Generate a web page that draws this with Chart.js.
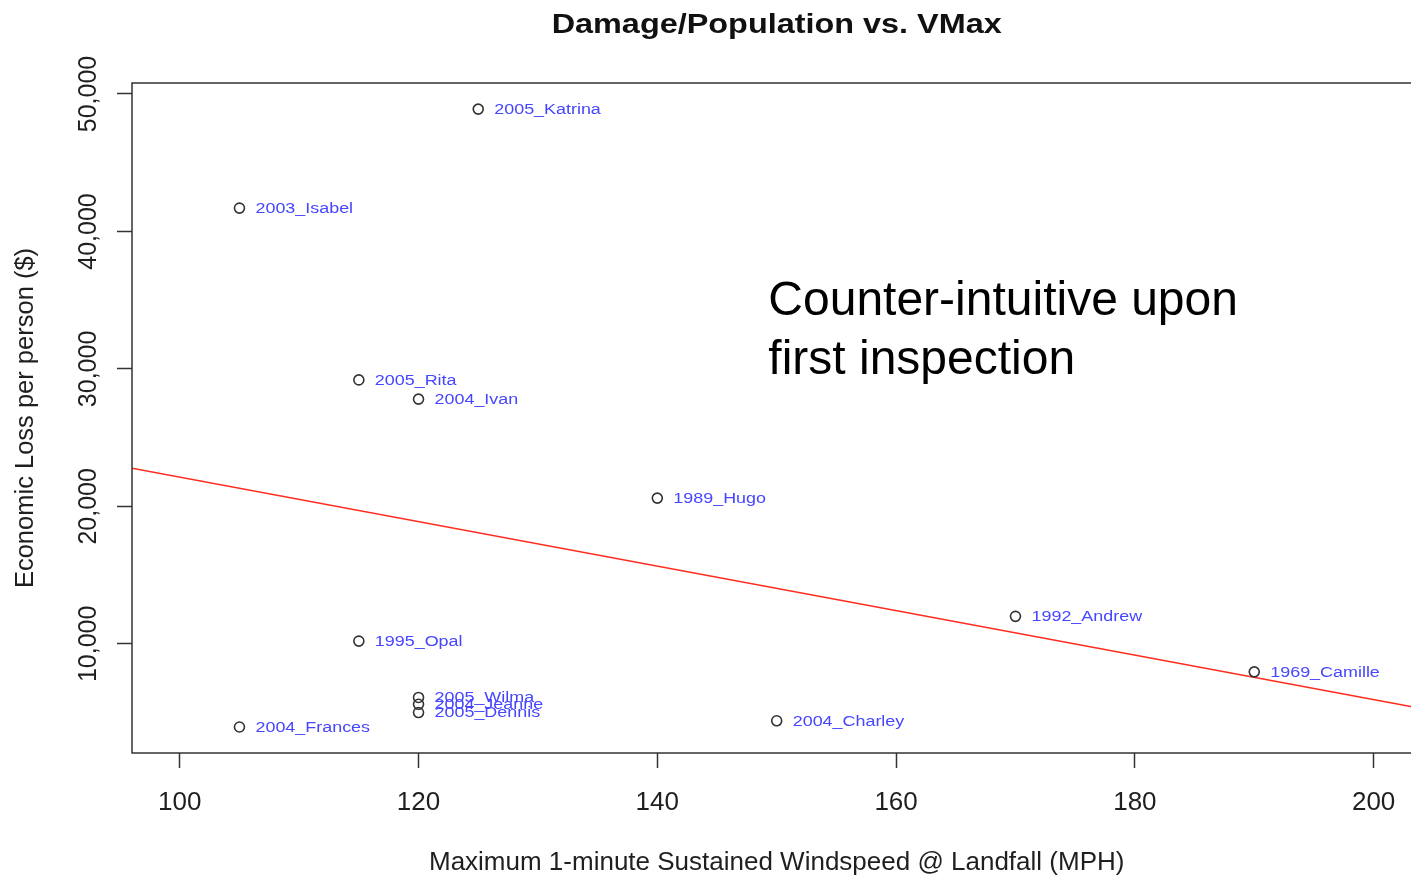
<!DOCTYPE html>
<html>
<head>
<meta charset="utf-8">
<script src="https://cdn.jsdelivr.net/npm/chart.js@4/dist/chart.umd.min.js"></script>
<style>
  html, body { margin: 0; padding: 0; background: #fff; }
  #wrap { width: 1411px; height: 878px; overflow: hidden; position: relative; }
</style>
</head>
<body>
<div id="wrap">
  <canvas id="vmaxChart" width="1428" height="878"></canvas>
</div>
<script>
// storms
const stormNames = ['2005_Katrina', '2003_Isabel', '2005_Rita', '2004_Ivan', '1989_Hugo', '1992_Andrew',
  '1969_Camille', '1995_Opal', '2005_Wilma', '2004_Jeanne', '2005_Dennis', '2004_Frances', '2004_Charley'];
const windspeed = [125, 105, 115, 120, 140, 170, 190, 115, 120, 120, 120, 105, 150];
const lossPerPerson = [48900, 41700, 29200, 27800, 20600, 12000, 7960, 10200, 6100, 5600, 5000, 3950, 4400];

// fitted line, ends at the plot edges
const fitX = [96, 204];
const fitY = [22770, 5290];

const xTicks = [100, 120, 140, 160, 180, 200];
const yTicks = [10000, 20000, 30000, 40000, 50000];

const chartTitle = 'Damage/Population vs. VMax';
const noteLines = ['Counter-intuitive upon', 'first inspection'];
const noteAt = { x: 149.3, y: 33900 };

const FONT = '"Liberation Sans", Arial, sans-serif';

const extras = {
  id: 'extras',
  afterDraw(chart) {
    const ctx = chart.ctx;
    const area = chart.chartArea;
    const xs = chart.scales.x;
    const ys = chart.scales.y;

    ctx.save();
    // box around the plot
    ctx.strokeStyle = '#333';
    ctx.lineWidth = 1.5;
    ctx.strokeRect(area.left, area.top, area.right - area.left, area.bottom - area.top);

    // y tick labels, turned like R draws them
    ctx.fillStyle = '#1f1f1f';
    ctx.font = '25px ' + FONT;
    ctx.textAlign = 'center';
    ctx.textBaseline = 'middle';
    yTicks.forEach(v => {
      ctx.save();
      ctx.translate(area.left - 43, ys.getPixelForValue(v));
      ctx.rotate(-Math.PI / 2);
      ctx.fillText(v.toLocaleString('en-US'), 0, 0);
      ctx.restore();
    });

    // point labels
    const meta = chart.getDatasetMeta(0);
    ctx.fillStyle = '#4646ff';
    ctx.font = '14px ' + FONT;
    ctx.textAlign = 'left';
    meta.data.forEach((pt, i) => {
      ctx.save();
      ctx.translate(pt.x + 16, pt.y + 1);
      ctx.scale(1.28, 1);
      ctx.fillText(stormNames[i], 0, 0);
      ctx.restore();
    });

    // title
    ctx.save();
    ctx.fillStyle = '#111';
    ctx.font = 'bold 27px ' + FONT;
    ctx.textAlign = 'center';
    ctx.textBaseline = 'alphabetic';
    ctx.translate((area.left + area.right) / 2, 33);
    ctx.scale(1.2, 1);
    ctx.fillText(chartTitle, 0, 0);
    ctx.restore();

    // note
    ctx.fillStyle = '#000';
    ctx.font = '48px ' + FONT;
    ctx.textAlign = 'left';
    ctx.textBaseline = 'alphabetic';
    const nx = xs.getPixelForValue(noteAt.x);
    const ny = ys.getPixelForValue(noteAt.y);
    noteLines.forEach((t, i) => ctx.fillText(t, nx, ny + i * 58.5));
    ctx.restore();
  }
};

const ctx = document.getElementById('vmaxChart').getContext('2d');
new Chart(ctx, {
  type: 'scatter',
  data: {
    datasets: [
      {
        label: 'storms',
        data: windspeed.map((x, i) => ({ x: x, y: lossPerPerson[i] })),
        pointStyle: 'circle',
        pointRadius: 5,
        pointHoverRadius: 5,
        pointBackgroundColor: 'rgba(0,0,0,0)',
        pointBorderColor: '#333',
        pointBorderWidth: 1.6
      },
      {
        type: 'line',
        label: 'fit',
        data: fitX.map((x, i) => ({ x: x, y: fitY[i] })),
        borderColor: '#ff2d1f',
        borderWidth: 1.5,
        pointRadius: 0,
        fill: false
      }
    ]
  },
  options: {
    responsive: false,
    animation: false,
    devicePixelRatio: 1,
    layout: { padding: { left: 0, right: 2, top: 83, bottom: 0 } },
    plugins: {
      legend: { display: false },
      tooltip: { enabled: false },
      title: { display: false }
    },
    scales: {
      x: {
        type: 'linear',
        min: 96,
        max: 204,
        afterBuildTicks: s => { s.ticks = xTicks.map(v => ({ value: v })); },
        afterFit: s => { s.height = 125; },
        border: { display: false },
        grid: { drawOnChartArea: false, drawTicks: true, tickLength: 15, tickColor: '#333', tickWidth: 1.5 },
        ticks: {
          color: '#1f1f1f',
          font: { family: FONT, size: 26 },
          padding: 19,
          maxRotation: 0,
          autoSkip: false,
          callback: v => String(v)
        },
        title: {
          display: true,
          text: 'Maximum 1-minute Sustained Windspeed @ Landfall (MPH)',
          color: '#1f1f1f',
          font: { family: FONT, size: 26, lineHeight: 1.1 },
          padding: { top: 0, bottom: 0.5 }
        }
      },
      y: {
        type: 'linear',
        min: 2058,
        max: 50800,
        afterBuildTicks: s => { s.ticks = yTicks.map(v => ({ value: v })); },
        afterFit: s => { s.width = 132; },
        border: { display: false },
        grid: { drawOnChartArea: false, drawTicks: true, tickLength: 15, tickColor: '#333', tickWidth: 1.5 },
        ticks: { display: false },
        title: {
          display: true,
          text: 'Economic Loss per person ($)',
          color: '#1f1f1f',
          font: { family: FONT, size: 25.5, lineHeight: 1.2 },
          padding: { top: 11, bottom: 0 }
        }
      }
    }
  },
  plugins: [extras]
});
</script>
</body>
</html>
